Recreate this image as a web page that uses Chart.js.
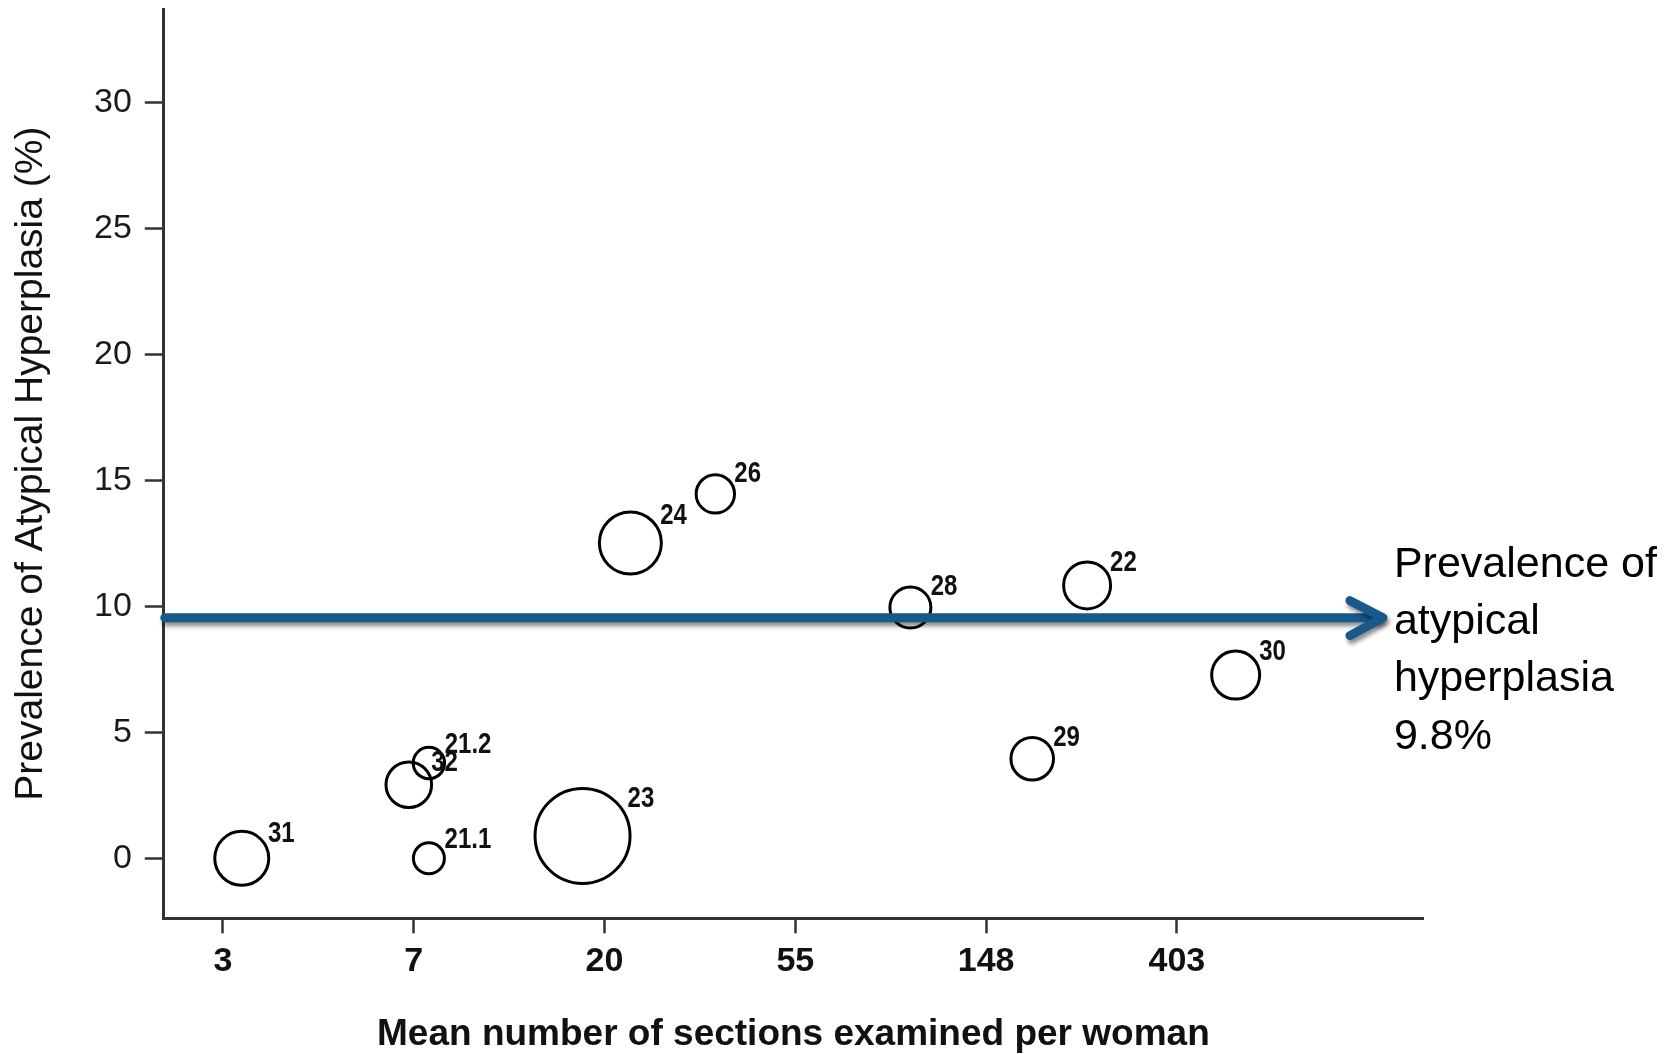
<!DOCTYPE html>
<html><head><meta charset="utf-8">
<script src="https://cdn.jsdelivr.net/npm/chart.js@4.4.1/dist/chart.umd.min.js"></script>
<style>html,body{margin:0;padding:0;background:#fff;overflow:hidden}#wrap{width:1674px;height:1054px;position:relative}</style>
</head><body><div id="wrap"><canvas id="c" width="1674" height="1054"></canvas></div>
<script>
// ---- data ----
const studyLabels   = ['31', '32', '21.2', '21.1', '23', '24', '26', '28', '22', '29', '30'];
const meanSections  = [3.0, 7.2, 8.0, 8.0, 17.9, 23.0, 35.9, 99.8, 252, 189, 549];
const prevalence    = [0, 2.92, 3.78, 0, 0.89, 12.51, 14.46, 9.95, 10.83, 3.95, 7.27];
const bubbleSize    = [27, 22.8, 15.7, 15.5, 47.5, 31, 19.2, 20.5, 23.5, 21.3, 24];
const xTickLn       = [1, 2, 3, 4, 5, 6];
const xTickLabels   = ['3', '7', '20', '55', '148', '403'];
const yTickValues   = [0, 5, 10, 15, 20, 25, 30];
const pooledLineY   = 9.55;
const pooledText    = ['Prevalence of', 'atypical', 'hyperplasia', '9.8%'];

const SANS = "'Liberation Sans', Arial, sans-serif";
const NARROW = "'Liberation Sans Narrow', 'Arial Narrow', 'Liberation Sans', sans-serif";

const annotate = {
  id: 'annotate',
  afterDatasetsDraw(chart) {
    const ctx = chart.ctx;
    const xs = chart.scales.x, ys = chart.scales.y;
    const meta = chart.getDatasetMeta(0);
    // bubble labels
    ctx.save();
    ctx.fillStyle = '#111';
    ctx.font = "bold 30px " + NARROW;
    ctx.textAlign = 'left';
    ctx.textBaseline = 'alphabetic';
    meta.data.forEach((el, i) => {
      const r = bubbleSize[i] + 1.5;
      const x = el.x + 0.92 * r, y = el.y - 0.58 * r;
      ctx.save();
      ctx.translate(x, y);
      ctx.scale(0.8, 1);
      ctx.fillText(studyLabels[i], 0, 0);
      ctx.restore();
    });
    ctx.restore();
    // pooled prevalence arrow
    const yPix = ys.getPixelForValue(pooledLineY);
    const x0 = chart.chartArea.left + 1;
    const x1 = xs.getPixelForValue(7.08);
    ctx.save();
    ctx.strokeStyle = '#17598a';
    ctx.lineWidth = 9;
    ctx.lineCap = 'round';
    ctx.lineJoin = 'round';
    ctx.shadowColor = 'rgba(0,0,0,0.45)';
    ctx.shadowOffsetX = 2;
    ctx.shadowOffsetY = 4;
    ctx.shadowBlur = 4;
    ctx.beginPath();
    ctx.moveTo(x0, yPix);
    ctx.lineTo(x1 - 4, yPix);
    ctx.stroke();
    ctx.beginPath();
    ctx.moveTo(x1 - 33, yPix - 17);
    ctx.lineTo(x1, yPix);
    ctx.lineTo(x1 - 33, yPix + 18);
    ctx.stroke();
    ctx.restore();
    // text
    ctx.save();
    ctx.fillStyle = '#000';
    ctx.font = "43px " + SANS;
    ctx.textAlign = 'left';
    ctx.textBaseline = 'alphabetic';
    pooledText.forEach((t, i) => {
      ctx.fillText(t, x1 + 11, yPix - 41 + i * 57.3);
    });
    ctx.restore();
  }
};

new Chart(document.getElementById('c').getContext('2d'), {
  type: 'bubble',
  data: {
    datasets: [{
      data: meanSections.map((v, i) => ({ x: Math.log(v), y: prevalence[i], r: bubbleSize[i] })),
      backgroundColor: 'rgba(0,0,0,0)',
      borderColor: '#000',
      borderWidth: 3,
      hoverRadius: 0,
      hoverBorderWidth: 3
    }]
  },
  options: {
    responsive: false,
    animation: false,
    devicePixelRatio: 1,
    events: [],
    layout: { autoPadding: false, padding: { top: 9, right: 251, bottom: 0, left: 0 } },
    plugins: { legend: { display: false }, tooltip: { enabled: false } },
    scales: {
      x: {
        type: 'linear', min: 0.69, max: 7.29,
        afterBuildTicks: s => { s.ticks = xTickLn.map(v => ({ value: v })); },
        afterFit: s => { s.height = 135.7; s.paddingLeft = 0; s.paddingRight = 0; },
        ticks: {
          callback: (v, i) => xTickLabels[i],
          font: { family: SANS, size: 34, weight: 'bold' },
          color: '#111', padding: 8, maxRotation: 0, autoSkip: false
        },
        grid: { drawOnChartArea: false, tickLength: 15, tickWidth: 2.5, tickColor: '#333', color: '#333' },
        border: { color: '#333', width: 3 },
        title: {
          display: true, text: 'Mean number of sections examined per woman',
          font: { family: SANS, size: 37, weight: 'bold', lineHeight: 1 },
          padding: { top: 0, bottom: 1 }, color: '#111'
        }
      },
      y: {
        type: 'linear', min: -2.38, max: 33.7,
        afterBuildTicks: s => { s.ticks = yTickValues.map(v => ({ value: v })); },
        afterFit: s => { s.width = 163.8; s.paddingTop = 0; s.paddingBottom = 0; },
        ticks: {
          font: { family: SANS, size: 34 },
          color: '#1a1a1a', padding: 13
        },
        grid: { drawOnChartArea: false, tickLength: 19, tickWidth: 2.5, tickColor: '#333', color: '#333' },
        border: { color: '#333', width: 3 },
        title: {
          display: true, text: 'Prevalence of Atypical Hyperplasia (%)',
          font: { family: SANS, size: 39, lineHeight: 1.2 },
          padding: { top: 8, bottom: 0 }, color: '#111'
        }
      }
    }
  },
  plugins: [annotate]
});
</script>
</body></html>
